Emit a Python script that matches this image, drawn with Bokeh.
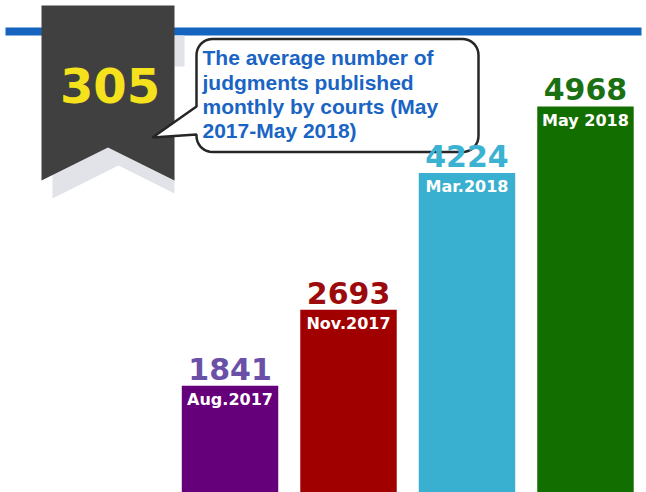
import numpy as np
from bokeh.plotting import figure
from bokeh.models import Range1d, ColumnDataSource
from bokeh.core.properties import value
from bokeh.embed import file_html
from bokeh.resources import INLINE

# ---- data ----
months = ["Aug.2017", "Nov.2017", "Mar.2018", "May 2018"]
judgments = [1841, 2693, 4224, 4968]
average_monthly = 305
caption_lines = ["The average number of", "judgments published",
                 "monthly by courts (May", "2017-May 2018)"]

# ---- styles ----
bar_colors = ["#66007a", "#a00000", "#39b0cf", "#136e00"]
number_colors = ["#6b50a8", "#9c0b0b", "#3cb2d2", "#1a7012"]

W, H = 646, 492
p = figure(width=W, height=H, output_backend="svg", toolbar_location=None,
           x_range=Range1d(-1.937, 3.515), y_range=Range1d(646, 6154),
           min_border=0, min_border_left=0, min_border_right=0,
           min_border_top=0, min_border_bottom=0,
           x_axis_location=None, y_axis_location=None)
p.outline_line_color = None
p.grid.visible = False
p.background_fill_color = "white"
p.border_fill_color = "white"

# pixel coordinate system for decorations (y down)
p.extra_x_ranges = {"px": Range1d(0, W)}
p.extra_y_ranges = {"py": Range1d(H, 0)}
deco = dict(x_range_name="px", y_range_name="py")

# top blue line
p.quad(left=[5], right=[641], top=[27], bottom=[35], fill_color="#1565c0",
       line_color=None, **deco)

# ribbon shadow pieces
p.quad(left=[174], right=[184], top=[35], bottom=[66], fill_color="#e2e2e9",
       line_color=None, **deco)
p.patch(x=[52, 52, 118, 174, 174], y=[140, 198, 165, 193, 140],
        fill_color="#e2e2e9", line_color=None, **deco)

# ribbon
p.patch(x=[41, 174, 174, 107.5, 41], y=[5, 5, 180, 147, 180],
        fill_color="#404040", line_color=None, **deco)
p.text(x=[109.5], y=[85], text=[str(average_monthly)],
       text_font=value("DejaVu Sans"), text_font_style="bold",
       text_font_size="48px", text_color="#f5e21c",
       text_align="center", text_baseline="alphabetic", **deco)

# speech bubble
def bubble(x0, y0, x1, y1, r, tip, base_top, base_bot):
    xs, ys = [], []
    def arc(cx, cy, a0, a1):
        for t in np.linspace(np.radians(a0), np.radians(a1), 10):
            xs.append(cx + r * np.cos(t))
            ys.append(cy + r * np.sin(t))
    arc(x1 - r, y0 + r, -90, 0)
    arc(x1 - r, y1 - r, 0, 90)
    arc(x0 + r, y1 - r, 90, 180)
    xs.extend([x0, tip[0], x0])
    ys.extend([base_bot, tip[1], base_top])
    arc(x0 + r, y0 + r, 180, 270)
    xs.append(xs[0]); ys.append(ys[0])
    return xs, ys

bx, by = bubble(196, 38.5, 478, 151.5, 16, (152, 137), 106, 134)
p.patch(x=bx, y=by, fill_color="white", line_color="#262626",
        line_width=2.5, **deco)

p.text(x=[202] * 4, y=[57, 81.5, 105.7, 130.2], text=caption_lines,
       text_font=value("Liberation Sans"), text_font_style="bold",
       text_font_size="21px", text_color="#1a64c4",
       text_align="left", text_baseline="alphabetic", **deco)

# bars
idx = list(range(len(months)))
src = ColumnDataSource(dict(x=idx, top=judgments, month=months,
                            num=[str(v) for v in judgments],
                            bc=bar_colors, nc=number_colors))
p.vbar(x="x", top="top", bottom=0, width=0.814, fill_color="bc",
       line_color=None, source=src)
p.text(x="x", y="top", text="num", y_offset=-17, text_color="nc",
       text_font=value("DejaVu Sans"), text_font_style="bold",
       text_font_size="30px", text_align="center",
       text_baseline="alphabetic", source=src)
p.text(x="x", y="top", text="month", y_offset=14, text_color="white",
       text_font=value("DejaVu Sans"), text_font_style="bold",
       text_font_size="16px", text_align="center",
       text_baseline="alphabetic", source=src)

open("out.html", "w").write(file_html(p, INLINE))
